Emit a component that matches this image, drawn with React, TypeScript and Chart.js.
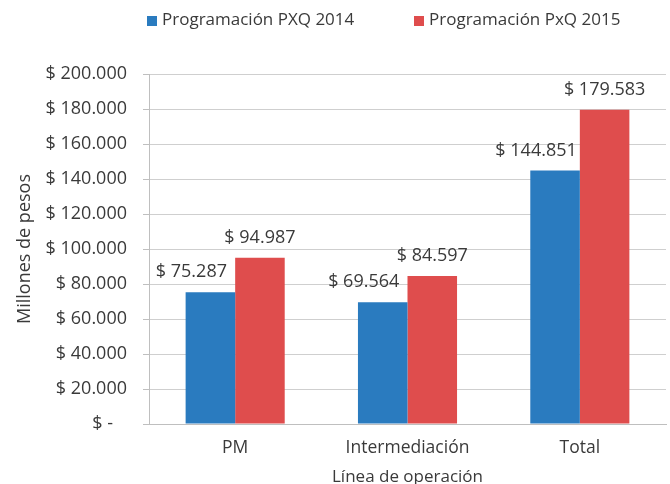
import React, { useEffect, useRef } from "react";
import { Chart, registerables } from "chart.js";

Chart.register(...registerables);

const categories = ["PM", "Intermediación", "Total"];
const series2014 = [75287, 69564, 144851];
const series2015 = [94987, 84597, 179583];
const seriesNames = ["Programación PXQ 2014", "Programación PxQ 2015"];
const yTickValues = [0, 20000, 40000, 60000, 80000, 100000, 120000, 140000, 160000, 180000, 200000];
const yTitle = "Millones de pesos";
const xTitle = "Línea de operación";

const BLUE = "#2A7BBF";
const RED = "#DF4D4D";
const TEXT = "#3A3A3A";
const FONT = "'Open Sans', 'DejaVu Sans', sans-serif";
const FS = 17;
const FS_NUM = 18;

const fmt = (v: number) => {
  if (v === 0) return "$ -\u00a0\u00a0\u00a0";
  return "$ " + Math.round(v).toString().replace(/\B(?=(\d{3})+(?!\d))/g, ".");
};

const labelsPlugin = {
  id: "customLabels",
  afterDatasetsDraw(chart: any) {
    const ctx = chart.ctx;
    ctx.save();
    ctx.font = `${FS_NUM}px ${FONT}`;
    ctx.fillStyle = TEXT;
    ctx.textAlign = "center";
    ctx.textBaseline = "middle";
    chart.data.datasets.forEach((ds: any, di: number) => {
      const meta = chart.getDatasetMeta(di);
      const dx = di === 0 ? -19 : 0;
      meta.data.forEach((bar: any, i: number) => {
        ctx.fillText(fmt(ds.data[i]), bar.x + dx, bar.y - 20);
      });
    });
    ctx.font = `${FS}px ${FONT}`;
    const items = [
      { x: 147, text: chart.data.datasets[0].label, color: chart.data.datasets[0].backgroundColor },
      { x: 414, text: chart.data.datasets[1].label, color: chart.data.datasets[1].backgroundColor },
    ];
    ctx.textAlign = "left";
    items.forEach((it) => {
      ctx.fillStyle = it.color;
      ctx.fillRect(it.x, 16, 10, 10);
      ctx.fillStyle = TEXT;
      ctx.fillText(it.text, it.x + 15, 20);
    });
    ctx.restore();
  },
};

export default function App() {
  const ref = useRef<HTMLCanvasElement | null>(null);
  useEffect(() => {
    if (!ref.current) return;
    const chart = new Chart(ref.current, {
      type: "bar",
      data: {
        labels: categories,
        datasets: [
          { label: seriesNames[0], data: series2014, backgroundColor: BLUE, borderWidth: 0 },
          { label: seriesNames[1], data: series2015, backgroundColor: RED, borderWidth: 0 },
        ],
      },
      options: {
        responsive: false,
        animation: false,
        layout: { padding: { top: 74, right: 4, left: 14, bottom: 0 } },
        plugins: { legend: { display: false }, tooltip: { enabled: false } },
        datasets: { bar: { categoryPercentage: 0.575, barPercentage: 1 } },
        scales: {
          x: {
            grid: { display: false, drawTicks: false },
            border: { display: true, color: "#BFBFBF", width: 1 },
            ticks: { color: TEXT, font: { family: FONT, size: 17.5 }, padding: 14 },
            title: { display: true, text: xTitle, color: TEXT, font: { family: FONT, size: FS }, padding: { top: 8, bottom: -3 } },
            afterFit: (s: any) => { s.height = 60; },
          },
          y: {
            min: 0,
            max: 200000,
            afterBuildTicks: (s: any) => { s.ticks = yTickValues.map((v) => ({ value: v })); },
            grid: { color: "#CFCFCF", tickLength: 6, tickColor: "#BFBFBF" },
            border: { display: true, color: "#BFBFBF", width: 1 },
            ticks: { color: TEXT, font: { family: FONT, size: FS_NUM }, padding: 16, callback: (v: any) => fmt(Number(v)) },
            title: { display: true, text: yTitle, color: TEXT, font: { family: FONT, size: 18 }, padding: { top: 0, bottom: 4 } },
            afterFit: (s: any) => { s.width = 135; },
          },
        },
      },
      plugins: [labelsPlugin],
    });
    return () => chart.destroy();
  }, []);
  return (
    <div style={{ position: "fixed", left: 0, top: 0, width: 670, height: 484, background: "#fff" }}>
      <canvas ref={ref} width={670} height={484} style={{ width: 670, height: 484 }} />
    </div>
  );
}
